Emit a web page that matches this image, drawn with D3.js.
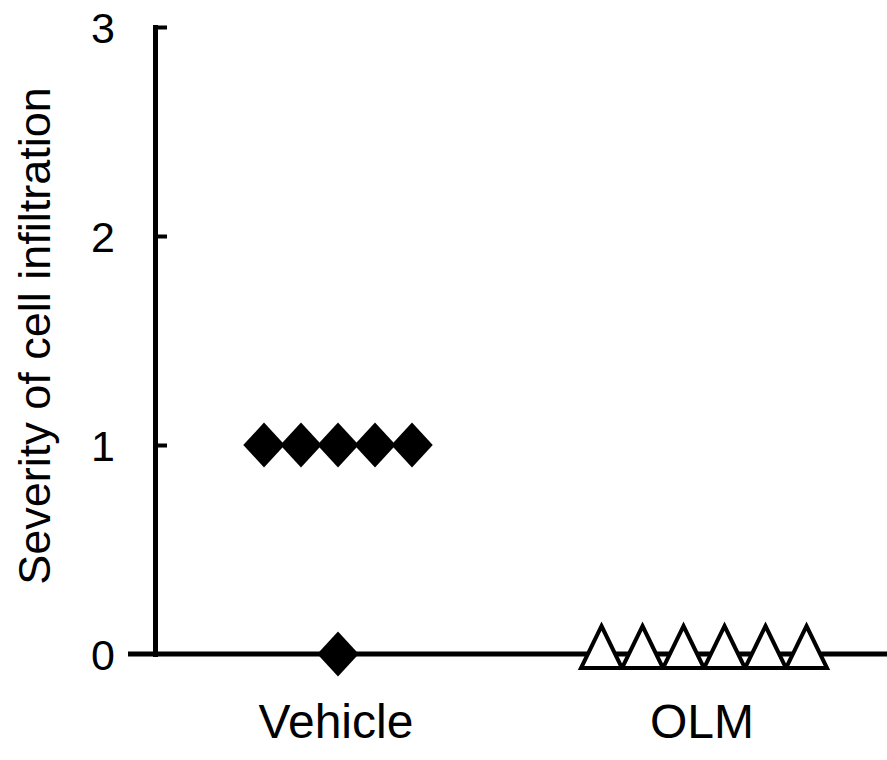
<!DOCTYPE html>
<html>
<head>
<meta charset="utf-8">
<script src="https://cdn.jsdelivr.net/npm/d3@7"></script>
<style>
    body { margin: 0; background: #fff; }
    svg { display: block; }
    text { font-family: "Liberation Sans", Arial, sans-serif; fill: #000; }
</style>
</head>
<body>
<svg id="chart" width="887" height="760"></svg>
<script>
// groups on the x axis
const groups = ['Vehicle', 'OLM'];
// severity score of every animal
const vehicleScores = [1, 1, 1, 1, 1, 0];
const olmScores = [0, 0, 0, 0, 0, 0];
// y axis ticks
const yTicks = [0, 1, 2, 3];
const yLabel = 'Severity of cell infiltration';

var svg = d3.select('#chart'),
    plotLeft = 155,
    plotRight = 887,
    plotTop = 27,
    plotBottom = 654;

var x = d3.scalePoint().domain(groups).range([338, 704]);
var y = d3.scaleLinear().domain([0, 3]).range([plotBottom, plotTop]);

// x axis line, runs a bit past the y axis on the left
svg.append('line')
    .attr('x1', plotLeft - 27)
    .attr('x2', plotRight)
    .attr('y1', y(0))
    .attr('y2', y(0))
    .attr('stroke', '#000')
    .attr('stroke-width', 5);

// y axis, ticks pointing inward
var yAxis = svg.append('g')
    .attr('transform', 'translate(' + plotLeft + ',0)')
    .call(d3.axisLeft(y).tickValues(yTicks).tickFormat(d3.format('d'))
        .tickSizeInner(-12).tickSizeOuter(0).tickPadding(40));

yAxis.select('.domain')
    .attr('stroke-width', 5)
    .attr('stroke-linecap', 'square');
yAxis.selectAll('.tick line')
    .attr('stroke-width', 4)
    .filter(d => d === 0).remove();
yAxis.selectAll('.tick text')
    .style('font-size', '43px')
    .attr('dy', '0.36em');

// y label
svg.append('text')
    .attr('transform', 'translate(50,336) rotate(-90)')
    .attr('text-anchor', 'middle')
    .style('font-size', '45px')
    .text(yLabel);

// category labels
svg.selectAll('.group-label')
    .data(groups)
    .enter().append('text')
    .attr('class', 'group-label')
    .attr('x', d => x(d) - 2)
    .attr('y', 738)
    .attr('text-anchor', 'middle')
    .style('font-size', '48px')
    .text(d => d);

// spread points with the same score side by side
function spread(scores, gap) {
    var out = [];
    d3.group(scores.map((v, i) => ({ v: v, i: i })), d => d.v).forEach(list => {
        list.forEach((d, k) => {
            out.push({ v: d.v, off: (k - (list.length - 1) / 2) * gap });
        });
    });
    return out;
}

// vehicle: filled diamonds
var diamond = d3.symbol().type(d3.symbolSquare).size(860);
svg.selectAll('.vehicle')
    .data(spread(vehicleScores, 37))
    .enter().append('path')
    .attr('class', 'vehicle')
    .attr('d', diamond)
    .attr('transform', d => 'translate(' + (x('Vehicle') + d.off) + ',' + y(d.v) + ') scale(1,1.08) rotate(45)')
    .attr('fill', '#000');

// olm: open triangles
function triangle(w, h) {
    return 'M0,' + (-2 * h / 3) + 'L' + (w / 2) + ',' + (h / 3) + 'L' + (-w / 2) + ',' + (h / 3) + 'Z';
}
svg.selectAll('.olm')
    .data(spread(olmScores, 41))
    .enter().append('path')
    .attr('class', 'olm')
    .attr('d', triangle(41, 42))
    .attr('transform', d => 'translate(' + (x('OLM') + d.off) + ',' + y(d.v) + ')')
    .attr('fill', '#fff')
    .attr('stroke', '#000')
    .attr('stroke-width', 4)
    .attr('stroke-linejoin', 'miter');
</script>
</body>
</html>
